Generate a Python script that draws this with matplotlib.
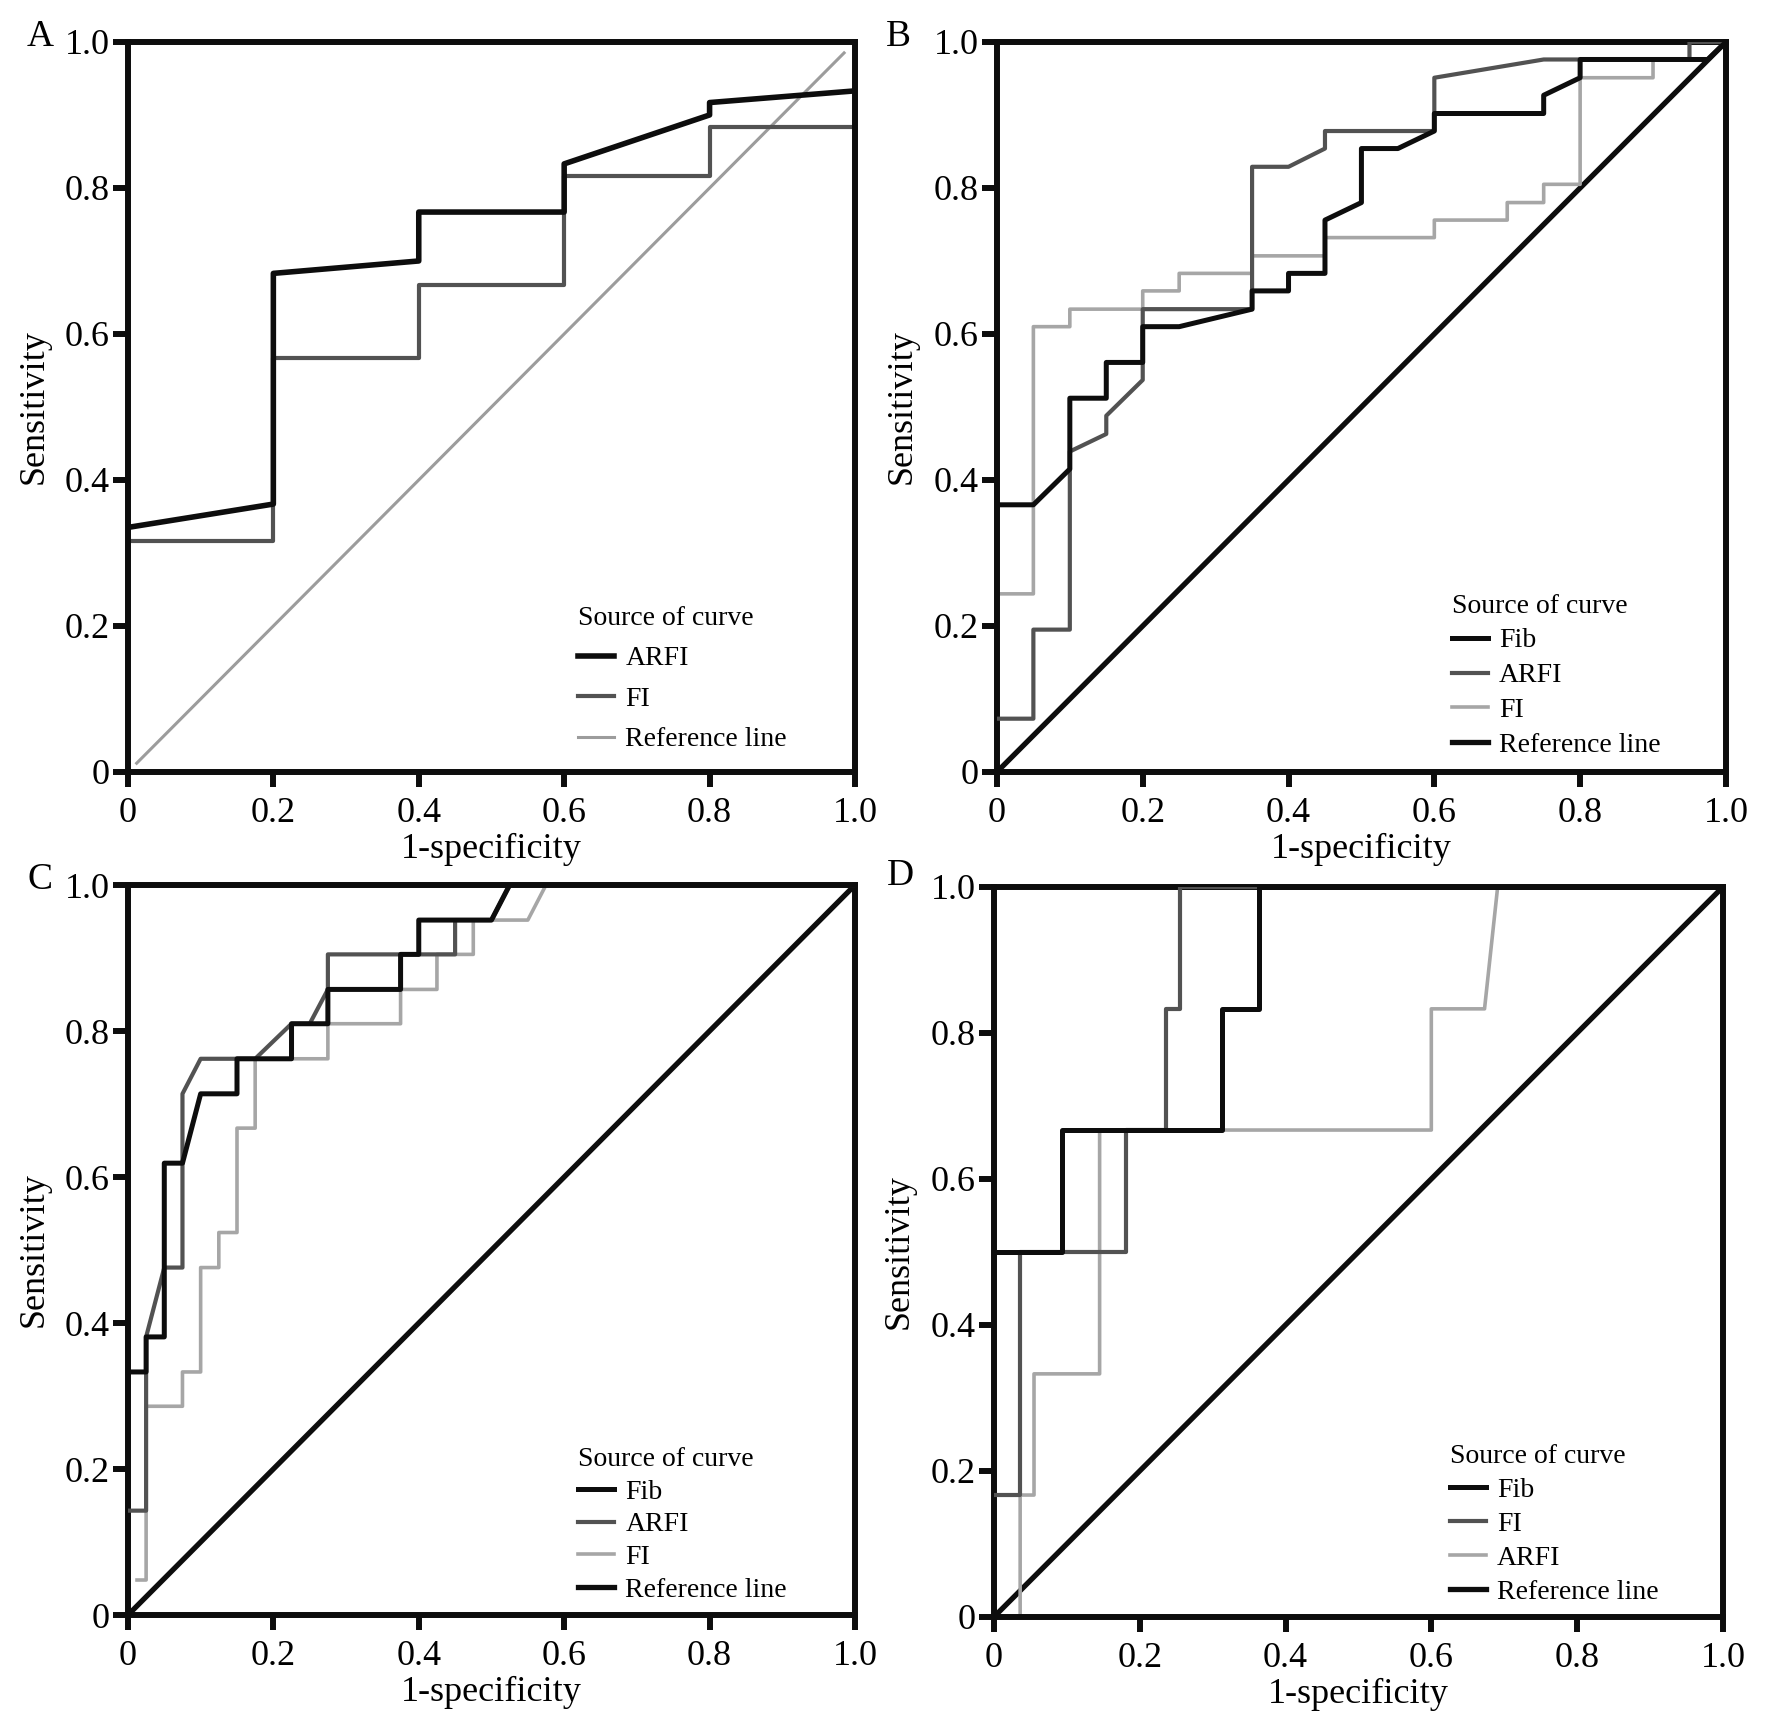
import matplotlib
matplotlib.use("Agg")
import matplotlib.pyplot as plt

plt.rcParams['font.family'] = ['Liberation Serif', 'DejaVu Serif']

# ---- data (1-specificity, sensitivity) ----
# panel A
a_arfi_x = [0, 0.2, 0.2, 0.4, 0.4, 0.6, 0.6, 0.8, 0.8, 1.0]
a_arfi_y = [0.335, 0.367, 0.683, 0.70, 0.767, 0.767, 0.833, 0.90, 0.917, 0.933]
a_fi_x = [0, 0.2, 0.2, 0.4, 0.4, 0.6, 0.6, 0.8, 0.8, 1.0]
a_fi_y = [0.317, 0.317, 0.567, 0.567, 0.667, 0.667, 0.817, 0.817, 0.883, 0.883]
a_ref_x = [0.012, 0.985]
a_ref_y = [0.012, 0.985]

# panel B
b_fib_x = [0, 0.05, 0.1, 0.1, 0.15, 0.15, 0.2, 0.2, 0.25, 0.35, 0.35, 0.4, 0.4, 0.45,
           0.45, 0.5, 0.5, 0.55, 0.6, 0.6, 0.75, 0.75, 0.8, 0.8, 0.975, 1.0]
b_fib_y = [0.366, 0.366, 0.415, 0.512, 0.512, 0.561, 0.561, 0.610, 0.610, 0.634, 0.659,
           0.659, 0.683, 0.683, 0.756, 0.780, 0.854, 0.854, 0.878, 0.902, 0.902, 0.927,
           0.951, 0.976, 0.976, 1.0]
b_arfi_x = [0, 0.05, 0.05, 0.1, 0.1, 0.15, 0.15, 0.2, 0.2, 0.35, 0.35, 0.4, 0.45, 0.45,
            0.6, 0.6, 0.75, 0.95, 0.95, 1.0]
b_arfi_y = [0.073, 0.073, 0.195, 0.195, 0.439, 0.463, 0.488, 0.537, 0.634, 0.634, 0.829,
            0.829, 0.854, 0.878, 0.878, 0.951, 0.976, 0.976, 1.0, 1.0]
b_fi_x = [0, 0.05, 0.05, 0.1, 0.1, 0.2, 0.2, 0.25, 0.25, 0.35, 0.35, 0.45, 0.45, 0.6, 0.6,
          0.7, 0.7, 0.75, 0.75, 0.8, 0.8, 0.9, 0.9, 0.975, 1.0]
b_fi_y = [0.244, 0.244, 0.610, 0.610, 0.634, 0.634, 0.659, 0.659, 0.683, 0.683, 0.707,
          0.707, 0.732, 0.732, 0.756, 0.756, 0.780, 0.780, 0.805, 0.805, 0.951, 0.951,
          0.976, 0.976, 1.0]
b_ref_x = [0, 1.0]
b_ref_y = [0, 1.0]

# panel C
c_fib_x = [0, 0.025, 0.025, 0.05, 0.05, 0.075, 0.1, 0.15, 0.15, 0.225, 0.225, 0.275, 0.275,
           0.375, 0.375, 0.4, 0.4, 0.5, 0.525, 1.0]
c_fib_y = [0.333, 0.333, 0.381, 0.381, 0.619, 0.619, 0.714, 0.714, 0.762, 0.762, 0.810,
           0.810, 0.857, 0.857, 0.905, 0.905, 0.952, 0.952, 1.0, 1.0]
c_arfi_x = [0, 0.025, 0.025, 0.05, 0.075, 0.075, 0.1, 0.175, 0.225, 0.25, 0.275, 0.275,
            0.45, 0.45, 0.5, 0.525, 1.0]
c_arfi_y = [0.143, 0.143, 0.381, 0.476, 0.476, 0.714, 0.762, 0.762, 0.810, 0.810, 0.857,
            0.905, 0.905, 0.952, 0.952, 1.0, 1.0]
c_fi_x = [0.0125, 0.025, 0.025, 0.075, 0.075, 0.1, 0.1, 0.125, 0.125, 0.15, 0.15, 0.175,
          0.175, 0.275, 0.275, 0.375, 0.375, 0.425, 0.425, 0.475, 0.475, 0.55, 0.575, 1.0]
c_fi_y = [0.048, 0.048, 0.286, 0.286, 0.333, 0.333, 0.476, 0.476, 0.524, 0.524, 0.667,
          0.667, 0.762, 0.762, 0.810, 0.810, 0.857, 0.857, 0.905, 0.905, 0.952, 0.952,
          1.0, 1.0]
c_ref_x = [0, 1.0]
c_ref_y = [0, 1.0]

# panel D
d_fib_x = [0, 0.093, 0.093, 0.313, 0.313, 0.363, 0.363, 1.0]
d_fib_y = [0.5, 0.5, 0.667, 0.667, 0.833, 0.833, 1.0, 1.0]
d_fi_x = [0, 0.036, 0.036, 0.181, 0.181, 0.236, 0.236, 0.255, 0.255, 1.0]
d_fi_y = [0.167, 0.167, 0.5, 0.5, 0.667, 0.667, 0.833, 0.833, 1.0, 1.0]
d_arfi_x = [0.036, 0.036, 0.055, 0.055, 0.145, 0.145, 0.6, 0.6, 0.673, 0.691, 1.0]
d_arfi_y = [0.0, 0.167, 0.167, 0.333, 0.333, 0.667, 0.667, 0.833, 0.833, 1.0, 1.0]
d_ref_x = [0, 1.0]
d_ref_y = [0, 1.0]

ticks = [0, 0.2, 0.4, 0.6, 0.8, 1.0]
tick_labels = ['0', '0.2', '0.4', '0.6', '0.8', '1.0']

BLACK = '#0d0d0d'
DARK = '#525252'
LIGHT = '#a6a6a6'

fig = plt.figure(figsize=(17.72, 17.34), dpi=100)

def make_axes(rect):
    ax = fig.add_axes(rect)
    ax.set_xlim(0, 1)
    ax.set_ylim(0, 1)
    for s in ax.spines.values():
        s.set_linewidth(4.3)
        s.set_color(BLACK)
    ax.set_xticks(ticks)
    ax.set_xticklabels(tick_labels)
    ax.set_yticks(ticks)
    ax.set_yticklabels(tick_labels)
    ax.tick_params(axis='both', direction='out', length=11, width=4.3,
                   color=BLACK, labelsize=26)
    ax.tick_params(axis='x', pad=7)
    ax.tick_params(axis='y', pad=2)
    ax.set_xlabel('1-specificity', fontsize=26)
    ax.set_ylabel('Sensitivity', fontsize=26)
    ax.xaxis.set_label_coords(0.5, -0.083)
    ax.yaxis.set_label_coords(-0.107, 0.5)
    return ax

def add_legend(ax, handles, labels, x0, y0, spacing):
    ax.legend(handles, labels, title='Source of curve', loc='lower left',
              bbox_to_anchor=(x0, y0), frameon=False, fontsize=20, title_fontsize=20,
              borderpad=0, handlelength=1.3, handletextpad=0.4, labelspacing=spacing,
              alignment='left')

# A
axA = make_axes([0.0722, 0.5548, 0.4103, 0.4210])
axA.plot(a_ref_x, a_ref_y, color='#9c9c9c', lw=2.2, zorder=1)
axA.plot(a_fi_x, a_fi_y, color=DARK, lw=3.0, zorder=2)
axA.plot(a_arfi_x, a_arfi_y, color=BLACK, lw=4.0, zorder=3)
hA = [plt.Line2D([], [], color=BLACK, lw=4.0),
      plt.Line2D([], [], color=DARK, lw=3.0),
      plt.Line2D([], [], color='#9c9c9c', lw=2.2)]
add_legend(axA, hA, ['ARFI', 'FI', 'Reference line'], 0.600, 0.008, 0.54)

# B
axB = make_axes([0.5626, 0.5548, 0.4114, 0.4210])
axB.plot(b_ref_x, b_ref_y, color=BLACK, lw=3.8, zorder=1)
axB.plot(b_fi_x, b_fi_y, color=LIGHT, lw=2.6, zorder=2)
axB.plot(b_arfi_x, b_arfi_y, color=DARK, lw=3.0, zorder=3)
axB.plot(b_fib_x, b_fib_y, color=BLACK, lw=3.6, zorder=4)
hB = [plt.Line2D([], [], color=BLACK, lw=3.6),
      plt.Line2D([], [], color=DARK, lw=3.0),
      plt.Line2D([], [], color=LIGHT, lw=2.6),
      plt.Line2D([], [], color=BLACK, lw=3.8)]
add_legend(axB, hB, ['Fib', 'ARFI', 'FI', 'Reference line'], 0.605, 0.0, 0.34)

# C
axC = make_axes([0.0722, 0.0686, 0.4103, 0.4210])
axC.plot(c_ref_x, c_ref_y, color=BLACK, lw=3.8, zorder=1)
axC.plot(c_fi_x, c_fi_y, color=LIGHT, lw=2.6, zorder=2)
axC.plot(c_arfi_x, c_arfi_y, color=DARK, lw=3.0, zorder=3)
axC.plot(c_fib_x, c_fib_y, color=BLACK, lw=3.6, zorder=4)
add_legend(axC, hB, ['Fib', 'ARFI', 'FI', 'Reference line'], 0.600, -0.002, 0.26)

# D
axD = make_axes([0.5609, 0.0675, 0.4114, 0.4210])
axD.plot(d_ref_x, d_ref_y, color=BLACK, lw=3.8, zorder=1)
axD.plot(d_arfi_x, d_arfi_y, color=LIGHT, lw=2.6, zorder=2)
axD.plot(d_fi_x, d_fi_y, color=DARK, lw=3.0, zorder=3)
axD.plot(d_fib_x, d_fib_y, color=BLACK, lw=3.6, zorder=4)
add_legend(axD, hB, ['Fib', 'FI', 'ARFI', 'Reference line'], 0.606, -0.002, 0.3)

# panel letters
fig.text(0.0226, 0.9787, 'A', fontsize=27, ha='center', va='center')
fig.text(0.5068, 0.9787, 'B', fontsize=27, ha='center', va='center')
fig.text(0.0226, 0.4925, 'C', fontsize=27, ha='center', va='center')
fig.text(0.5080, 0.4948, 'D', fontsize=27, ha='center', va='center')

fig.savefig('out.png', dpi=100)
